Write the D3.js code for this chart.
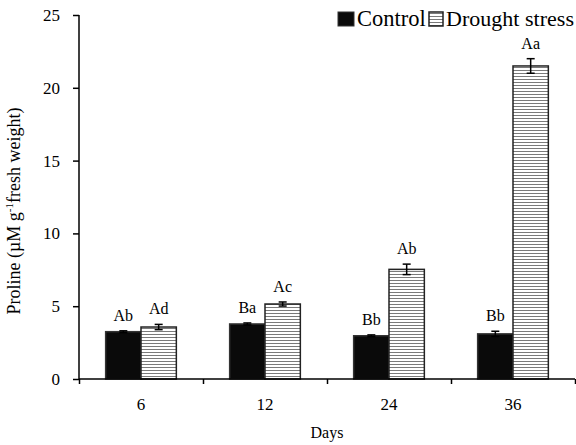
<!DOCTYPE html>
<html>
<head>
<meta charset="utf-8">
<script src="https://cdn.jsdelivr.net/npm/d3@7"></script>
<style>
  body { margin: 0; background: #fff; }
  text { font-family: "Liberation Serif", "Times New Roman", serif; fill: #000; }
</style>
</head>
<body>
<div class="chart"></div>
<script>
// data
const days = ["6", "12", "24", "36"];
const series = ["Control", "Drought stress"];
const control = [3.25, 3.78, 2.97, 3.1];
const controlErr = [0.06, 0.07, 0.06, 0.18];
const drought = [3.57, 5.15, 7.53, 21.5];
const droughtErr = [0.18, 0.14, 0.36, 0.5];
const controlLabels = ["Ab", "Ba", "Bb", "Bb"];
const droughtLabels = ["Ad", "Ac", "Ab", "Aa"];
const yTicks = [0, 5, 10, 15, 20, 25];

const margin = ({top: 15, right: 1, bottom: 66, left: 79});
const width = 576 - margin.left - margin.right;
const height = 445 - margin.top - margin.bottom;

const svg = d3.select('.chart').append('svg')
    .attr("width", width + margin.left + margin.right)
    .attr("height", height + margin.top + margin.bottom)
    .append("g")
    .attr("transform", "translate(" + margin.left + "," + margin.top + ")");

// horizontal hatching for the drought bars
const defs = svg.append("defs");
const pat = defs.append("pattern")
    .attr("id", "hatch")
    .attr("patternUnits", "userSpaceOnUse")
    .attr("width", 6)
    .attr("height", 3);
pat.append("rect").attr("width", 6).attr("height", 3).attr("fill", "#fff");
pat.append("line")
    .attr("x1", 0).attr("x2", 6)
    .attr("y1", 1.5).attr("y2", 1.5)
    .attr("stroke", "#7a7a7a")
    .attr("stroke-width", 1);

const data = days.map((d, i) => ({
  day: d,
  values: [
    {key: series[0], v: control[i], e: controlErr[i], lab: controlLabels[i]},
    {key: series[1], v: drought[i], e: droughtErr[i], lab: droughtLabels[i]}
  ]
}));

const x0 = d3.scaleBand()
    .domain(days)
    .range([0, width])
    .paddingInner(0.43)
    .paddingOuter(0.215);

const x1 = d3.scaleBand()
    .domain(series)
    .range([0, x0.bandwidth()]);

const yScale = d3.scaleLinear()
    .domain([0, 25])
    .range([height, 0]);

// y axis
svg.append("g")
    .attr("class", "axis y-axis")
    .call(d3.axisLeft(yScale).tickValues(yTicks).tickSize(6).tickPadding(13))
    .call(g => g.select(".domain").attr("d", `M0,0V${height}`).attr("stroke-width", 1.5))
    .call(g => g.selectAll(".tick line").attr("stroke-width", 1.5))
    .call(g => g.selectAll("text").attr("font-size", "17px"));

// group bars
const groups = svg.append("g")
    .selectAll("g")
    .data(data)
    .enter()
    .append("g")
    .attr("transform", d => `translate(${x0(d.day)},0)`);

groups.selectAll("rect")
    .data(d => d.values)
    .enter()
    .append("rect")
    .attr("x", d => x1(d.key))
    .attr("y", d => yScale(d.v))
    .attr("width", x1.bandwidth())
    .attr("height", d => height - yScale(d.v))
    .attr("fill", d => d.key === series[0] ? "#0a0a0a" : "url(#hatch)")
    .attr("stroke", d => d.key === series[0] ? "#333" : "#222")
    .attr("stroke-width", 1.5);

// error bars
const err = groups.selectAll(".err")
    .data(d => d.values)
    .enter()
    .append("g")
    .attr("class", "err")
    .attr("stroke", "#000")
    .attr("stroke-width", 1.5);

err.append("line")
    .attr("x1", d => x1(d.key) + x1.bandwidth() / 2)
    .attr("x2", d => x1(d.key) + x1.bandwidth() / 2)
    .attr("y1", d => yScale(d.v + d.e))
    .attr("y2", d => yScale(d.v - d.e));
err.selectAll(".cap")
    .data(d => [{d: d, y: d.v + d.e}, {d: d, y: d.v - d.e}])
    .enter()
    .append("line")
    .attr("x1", c => x1(c.d.key) + x1.bandwidth() / 2 - 4)
    .attr("x2", c => x1(c.d.key) + x1.bandwidth() / 2 + 4)
    .attr("y1", c => yScale(c.y))
    .attr("y2", c => yScale(c.y));

// letters above bars
groups.selectAll(".lab")
    .data(d => d.values)
    .enter()
    .append("text")
    .attr("class", "lab")
    .attr("x", d => x1(d.key) + x1.bandwidth() / 2)
    .attr("y", d => yScale(d.v + d.e) - 10)
    .attr("text-anchor", "middle")
    .attr("font-size", "16px")
    .text(d => d.lab);

// x axis with ticks at group boundaries
const xb = d3.scaleLinear().domain([0, days.length]).range([0, width]);
svg.append("g")
    .attr("class", "axis x-axis")
    .attr("transform", `translate(0,${height})`)
    .call(d3.axisBottom(xb).ticks(days.length).tickSize(5).tickFormat(""))
    .call(g => g.select(".domain").attr("d", `M0,0H${width}`).attr("stroke-width", 1.5))
    .call(g => g.selectAll(".tick line").attr("stroke-width", 1.5));

svg.append("g")
    .attr("transform", `translate(0,${height})`)
    .call(d3.axisBottom(x0).tickSize(0).tickPadding(19))
    .call(g => g.select(".domain").remove())
    .call(g => g.selectAll("text").attr("font-size", "17px"));

// axis titles
svg.append("text")
    .attr("x", width / 2)
    .attr("y", height + 59)
    .attr("text-anchor", "middle")
    .attr("font-size", "16px")
    .text("Days");

const yt = svg.append("text")
    .attr("transform", `translate(${-59},${height / 2 + 14}) rotate(-90)`)
    .attr("text-anchor", "middle")
    .attr("font-size", "18px");
yt.append("tspan").text("Proline (µM g");
yt.append("tspan").attr("font-size", "11px").attr("dy", "-7").text("-1");
yt.append("tspan").attr("dy", "7").text("fresh weight)");

// legend
const legend = svg.append("g")
    .attr("transform", `translate(${259},${-3})`);
legend.append("rect")
    .attr("x", 0).attr("y", 0).attr("width", 16).attr("height", 14)
    .attr("fill", "#0a0a0a").attr("stroke", "#333");
legend.append("text")
    .attr("x", 19).attr("y", 14)
    .attr("font-size", "22.5px")
    .text(series[0]);
legend.append("rect")
    .attr("x", 91).attr("y", 0).attr("width", 14).attr("height", 14)
    .attr("fill", "url(#hatch)").attr("stroke", "#222").attr("stroke-width", 1.5);
legend.append("text")
    .attr("x", 108).attr("y", 14)
    .attr("font-size", "22px")
    .attr("textLength", 128)
    .text(series[1]);
</script>
</body>
</html>
